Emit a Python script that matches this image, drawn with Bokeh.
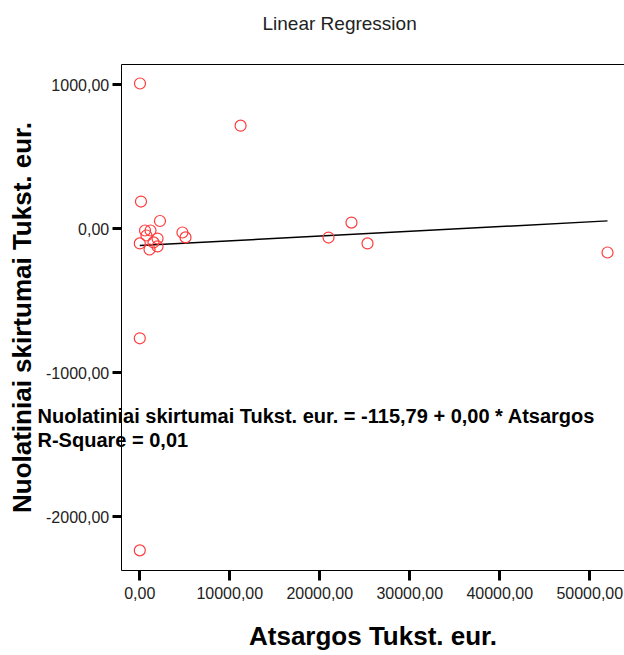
from bokeh.plotting import figure
from bokeh.models import Range1d, FixedTicker, Label, LinearAxis
from bokeh.embed import file_html
from bokeh.resources import INLINE

# ---- data (Tukst. eur.) ----
x_stock = [20, 11200, 130, 2240, 580, 1190, 740, 0, 1080, 1970, 1970, 1520,
           4740, 5080, 0, 0, 20970, 23520, 25300, 51970]
y_diff = [1010, 717, 190, 55, -11, -11, -46, -101, -143, -122, -67, -94,
          -25, -59, -760, -2233, -60, 44, -101, -164]

fit_intercept = -115.79
fit_slope = 0.0033

x_ticks = [0, 10000, 20000, 30000, 40000, 50000]
x_tick_labels = ["0,00", "10000,00", "20000,00", "30000,00", "40000,00", "50000,00"]
y_ticks = [-2000, -1000, 0, 1000]
y_tick_labels = ["-2000,00", "-1000,00", "0,00", "1000,00"]

title_text = "Linear Regression"
x_label = "Atsargos Tukst. eur."
y_label = "Nuolatiniai skirtumai Tukst. eur."
eq_text = "Nuolatiniai skirtumai Tukst. eur. = -115,79 + 0,00 * Atsargos"
r2_text = "R-Square = 0,01"

FONT = "Liberation Sans"

# view window (whole canvas is the plotting frame) and the drawn box
X_START, X_END = -15478, 53856
Y_START, Y_END = -2963.5, 1586.6
BOX_LEFT, BOX_BOTTOM, BOX_TOP = -2067, -2373, 1142

p = figure(width=624, height=655, output_backend="svg", toolbar_location=None,
           x_range=Range1d(X_START, X_END), y_range=Range1d(Y_START, Y_END),
           min_border=0, min_border_left=0, min_border_right=0,
           min_border_top=0, min_border_bottom=0)
p.title = None
p.background_fill_color = "white"
p.border_fill_color = "white"
p.outline_line_color = None
p.xgrid.visible = False
p.ygrid.visible = False

# regression line
x0, x1 = min(x_stock), max(x_stock)
p.line([x0, x1], [fit_intercept + fit_slope * x0, fit_intercept + fit_slope * x1],
       line_color="black", line_width=1.5)

# points
p.scatter(x_stock, y_diff, marker="circle", size=11, fill_color=None,
          line_color="#ff3b3b", line_width=1.2)

for ax in (p.xaxis[0], p.yaxis[0]):
    ax.axis_line_color = "black"
    ax.axis_line_width = 1
    ax.major_tick_line_width = 3
    ax.major_tick_line_color = "black"
    ax.major_tick_in = 0
    ax.minor_tick_line_color = None
    ax.major_label_text_font = FONT
    ax.major_label_text_font_size = "16px"
    ax.major_label_text_color = "#222222"
    ax.axis_label_text_font = FONT
    ax.axis_label_text_font_size = "26px"
    ax.axis_label_text_font_style = "bold"
    ax.axis_label_text_color = "black"

xa = p.xaxis[0]
xa.ticker = FixedTicker(ticks=x_ticks)
xa.major_label_overrides = dict(zip(x_ticks, x_tick_labels))
xa.major_tick_out = 10
xa.major_label_standoff = 7
xa.bounds = (BOX_LEFT, X_END)
xa.fixed_location = BOX_BOTTOM
xa.axis_label = x_label
xa.axis_label_standoff = 18

ya = p.yaxis[0]
ya.ticker = FixedTicker(ticks=y_ticks)
ya.major_label_overrides = dict(zip(y_ticks, y_tick_labels))
ya.major_tick_out = 9
ya.major_label_standoff = 3
ya.bounds = (BOX_BOTTOM, BOX_TOP)
ya.fixed_location = BOX_LEFT
ya.axis_label = y_label
ya.axis_label_standoff = 6

# top border of the box
top = LinearAxis(fixed_location=BOX_TOP, bounds=(BOX_LEFT, X_END),
                 ticker=FixedTicker(ticks=[]), major_label_text_font_size="0px",
                 major_tick_line_color=None, minor_tick_line_color=None,
                 axis_line_color="black", axis_line_width=1)
p.add_layout(top, "above")

# title and regression annotation (screen offsets from the frame's bottom-left)
p.add_layout(Label(x=262, y=632, x_units="screen", y_units="screen", text=title_text,
                   text_font=FONT, text_font_size="19px", text_font_style="normal",
                   text_baseline="middle", text_color="#222222"))
p.add_layout(Label(x=37, y=240, x_units="screen", y_units="screen", text=eq_text,
                   text_font=FONT, text_font_size="20px", text_font_style="bold",
                   text_baseline="middle", text_color="black"))
p.add_layout(Label(x=37, y=216, x_units="screen", y_units="screen", text=r2_text,
                   text_font=FONT, text_font_size="20px", text_font_style="bold",
                   text_baseline="middle", text_color="black"))

open("out.html", "w").write(file_html(p, INLINE))
